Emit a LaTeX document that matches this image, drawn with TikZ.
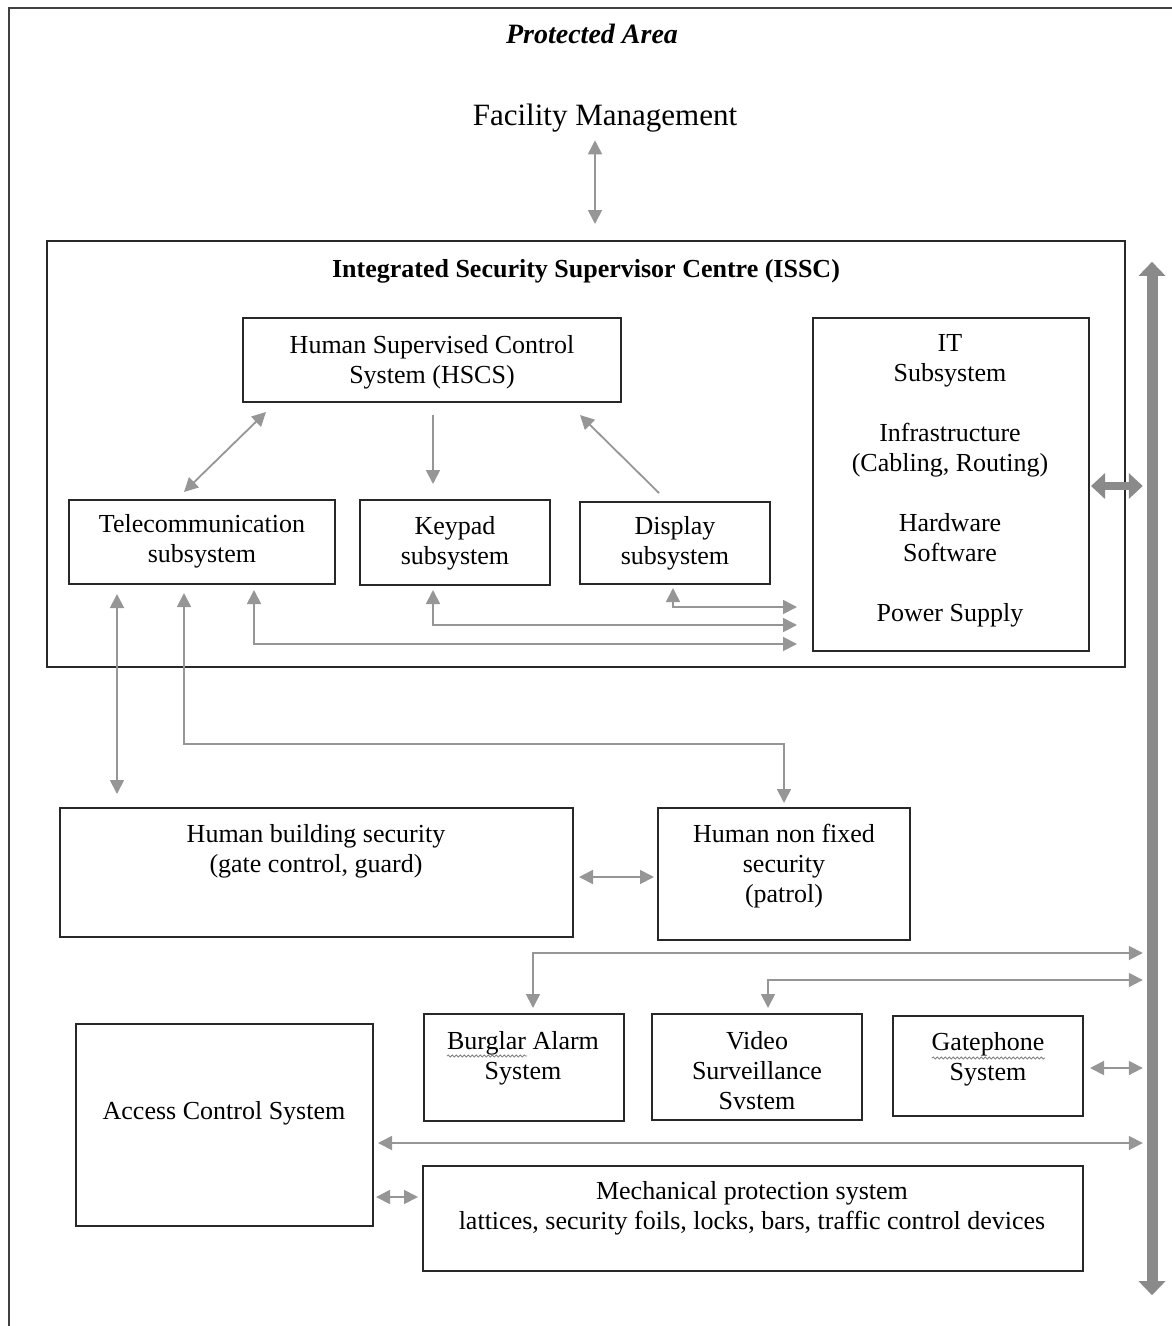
\documentclass[tikz,border=0pt]{standalone}
\usepackage{fontspec}
\setmainfont{Liberation Serif}
\usetikzlibrary{arrows.meta,calc,decorations.pathmorphing}
\definecolor{arrgray}{RGB}{150,150,150}
\definecolor{busgray}{RGB}{138,138,138}
\definecolor{boxline}{RGB}{40,40,40}
\definecolor{framegray}{RGB}{64,64,64}
\begin{document}
\begin{tikzpicture}[x=1pt,y=-1pt,
  box/.style={draw=boxline,line width=1.6pt,inner sep=0pt,outer sep=0pt},
  txt/.style={inner sep=0pt,align=center,font=\fontsize{26}{30}\selectfont,yshift=-3.5pt,
    execute at begin node=\strut,execute at end node=\strut},
  arr/.style={draw=arrgray,line width=1.8pt},
  dbl/.style={arr,{Triangle[length=14pt,width=14pt]}-{Triangle[length=14pt,width=14pt]}},
  sgl/.style={arr,-{Triangle[length=14pt,width=14pt]}},
  squig/.style={draw=gray,line width=0.8pt,decorate,decoration={snake,amplitude=1.1pt,segment length=4pt}}]
\useasboundingbox (0,0) rectangle (1172,1326);
% outer frame (Protected Area)
\draw[framegray,line width=2pt] (9,1340) -- (9,8) -- (1190,8);
\node[inner sep=0pt,font=\fontsize{28}{32}\selectfont\bfseries\itshape] (tpa) at (592,34) {Protected Area};
\node[inner sep=0pt,font=\fontsize{31}{36}\selectfont] (fm) at (605,118) {Facility Management};

% boxes
\node[box,minimum width=1078pt,minimum height=426pt] (issc) at (586,454) {};
\node[box,minimum width=378pt,minimum height=84pt] (hscs) at (432,360) {};
\node[box,minimum width=276pt,minimum height=333pt] (it) at (951,484.5) {};
\node[box,minimum width=266pt,minimum height=84pt] (tel) at (202,542) {};
\node[box,minimum width=190pt,minimum height=85pt] (key) at (455,542.5) {};
\node[box,minimum width=190pt,minimum height=82pt] (disp) at (675,543) {};
\node[box,minimum width=513pt,minimum height=129pt] (hbs) at (316.5,872.5) {};
\node[box,minimum width=252pt,minimum height=132pt] (hnf) at (784,874) {};
\node[box,minimum width=200pt,minimum height=107pt] (bur) at (524,1067.5) {};
\node[box,minimum width=210pt,minimum height=106pt] (vid) at (757,1067) {};
\node[box,minimum width=190pt,minimum height=100pt] (gate) at (988,1066) {};
\node[box,minimum width=297pt,minimum height=202pt] (acs) at (224.5,1125) {};
\node[box,minimum width=660pt,minimum height=105pt] (mech) at (753,1218.5) {};

% texts
\node[inner sep=0pt,font=\fontsize{26}{30}\selectfont\bfseries] (tissc) at (586,271) {Integrated Security Supervisor Centre (ISSC)};
\node[txt] (thscs) at (432,360) {Human Supervised Control\\System (HSCS)};
\node[txt] (tit) at (950,478.5) {IT\\Subsystem\\[30pt]Infrastructure\\(Cabling, Routing)\\[30pt]Hardware\\Software\\[30pt]Power Supply};
\node[txt] (ttel) at (202,539.5) {Telecommunication\\subsystem};
\node[txt] (tkey) at (455,541.5) {Keypad\\subsystem};
\node[txt] (tdisp) at (675,541.5) {Display\\subsystem};
\node[txt] (thbs) at (316,849) {Human building security\\(gate control, guard)};
\node[txt] (thnf) at (784,864.5) {Human non fixed\\security\\(patrol)};
\node[txt] (tbur) at (523,1056) {Burglar Alarm\\System};
\node[txt] (tvid) at (757,1071.5) {Video\\Surveillance\\Svstem};
\node[txt] (tgate) at (988,1057.5) {Gatephone\\System};
\node[txt] (tacs) at (224,1110) {Access Control System};
\node[txt] (tmech) at (752,1206.5) {Mechanical protection system\\lattices, security foils, locks, bars, traffic control devices};
% spell-check squiggles
\draw[squig] (447,1056) -- (527,1056);
\draw[squig] (932,1058) -- (1045,1058);

% bus
\node[inner sep=0pt,minimum width=12pt,minimum height=1033pt] (bus) at (1152,778.5) {};
\draw[busgray,line width=11pt,{Triangle[length=14pt,width=26pt]}-{Triangle[length=14pt,width=26pt]}] (bus.north) -- (bus.south);
\coordinate (busin) at ($(bus.west)+(-3pt,0)$);

% connectors
\draw[dbl] ([xshift=-10pt,yshift=-8pt]fm.south) -- ([xshift=9pt,yshift=17pt]issc.north);
\draw[dbl] ([xshift=-18pt,yshift=8pt]tel.north) -- ([xshift=-166pt,yshift=-10pt]hscs.south);
\draw[sgl] ([xshift=1pt,yshift=-13pt]hscs.south) -- ([xshift=-22pt,yshift=16pt]key.north);
\draw[sgl] ([xshift=-16pt,yshift=9pt]disp.north) -- ([xshift=148pt,yshift=-13pt]hscs.south);
\draw[dbl] ([xshift=-2pt,yshift=-4pt]disp.south) |- ([xshift=-16pt,yshift=-122.5pt]it.west);
\draw[dbl] ([xshift=-22pt,yshift=-5pt]key.south) |- ([xshift=-16pt,yshift=-140.5pt]it.west);
\draw[dbl] ([xshift=52pt,yshift=-6pt]tel.south) |- ([xshift=-16pt,yshift=-159.5pt]it.west);
\draw[dbl] ([xshift=-85pt,yshift=-10pt]tel.south) -- ([xshift=-199.5pt,yshift=14pt]hbs.north);
\coordinate (j1) at (784,744);
\draw[dbl] ([xshift=-18pt,yshift=-9pt]tel.south) |- (j1) -- ([yshift=5pt]hnf.north);
\draw[dbl] ([xshift=6pt,yshift=-4.5pt]hbs.east) -- ([xshift=-4pt,yshift=-3pt]hnf.west);
% IT to bus
\draw[busgray,line width=8pt,{Triangle[length=14pt,width=25pt]}-{Triangle[length=14pt,width=25pt]}] ([xshift=2pt,yshift=-1.5pt]it.east) coordinate (i1) -- (i1 -| busin);
% bus to field systems
\coordinate (j2) at (533,953);
\draw[dbl] ([xshift=9pt,yshift=6pt]bur.north) -- (j2) -- (j2 -| busin);
\coordinate (j3) at (768,980);
\draw[dbl] ([xshift=11pt,yshift=6pt]vid.north) -- (j3) -- (j3 -| busin);
\draw[dbl] ([xshift=7pt,yshift=-2pt]gate.east) coordinate (g1) -- (g1 -| busin);
\draw[dbl] ([xshift=5pt,yshift=-18pt]acs.east) coordinate (a1) -- (a1 -| busin);
\draw[dbl] ([xshift=3pt,yshift=-72pt]acs.east) -- ([xshift=-5pt,yshift=21.5pt]mech.west);
\end{tikzpicture}
\end{document}
